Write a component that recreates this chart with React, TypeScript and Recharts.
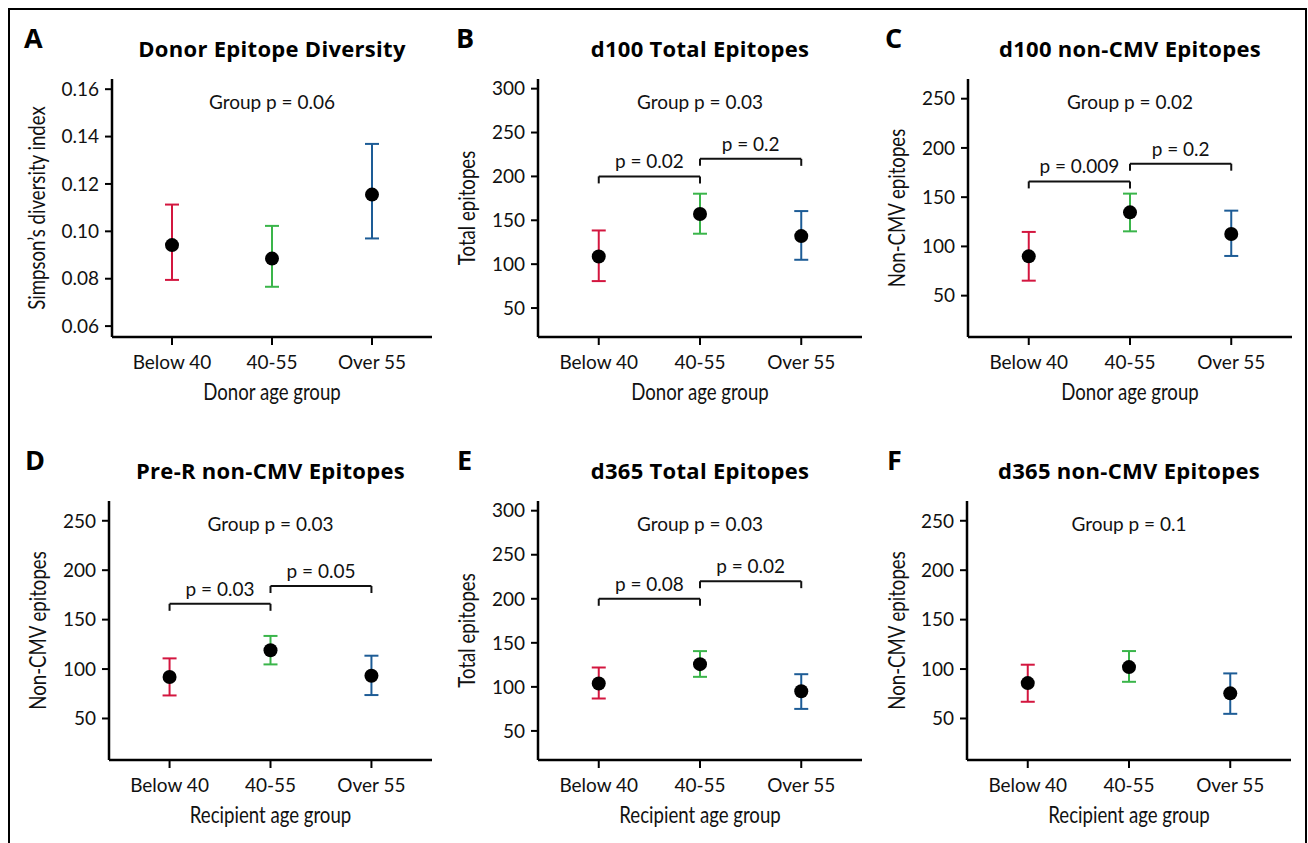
import React from "react"
import {
  ScatterChart,
  Scatter,
  XAxis,
  YAxis,
  ErrorBar,
  ReferenceLine,
} from "recharts"

const groups = ["Below 40", "40-55", "Over 55"]
const groupColors = ["#d3163f", "#3ab54a", "#1d5c96"]

// mean and interval ends per age group
const diversityMean = [0.0942, 0.0885, 0.1155]
const diversityLow = [0.0795, 0.0766, 0.097]
const diversityHigh = [0.1113, 0.1023, 0.1369]

const d100TotalMean = [108.8, 157.1, 132]
const d100TotalLow = [80.7, 134.7, 105]
const d100TotalHigh = [138.4, 180.3, 160.5]

const d100NonCmvMean = [89.9, 134.6, 112.6]
const d100NonCmvLow = [65.2, 115.3, 90.3]
const d100NonCmvHigh = [114.7, 153.6, 136.3]

const preRNonCmvMean = [91.9, 119, 93.2]
const preRNonCmvLow = [73.3, 104.7, 73.7]
const preRNonCmvHigh = [110.8, 133.5, 113.5]

const d365TotalMean = [103.9, 125.8, 95.1]
const d365TotalLow = [86.8, 111.4, 75]
const d365TotalHigh = [122, 140.6, 114.4]

const d365NonCmvMean = [85.8, 102, 75.4]
const d365NonCmvLow = [66.9, 87.1, 54.7]
const d365NonCmvHigh = [104.4, 118.2, 95.6]

const diversityTicks = [0.06, 0.08, 0.1, 0.12, 0.14, 0.16]
const totalTicks = [50, 100, 150, 200, 250, 300]
const nonCmvTicks = [50, 100, 150, 200, 250]

// pairwise comparisons: [from group, to group, bracket level, label]
type Bracket = [number, number, number, string]
const d100TotalPairs: Bracket[] = [[0, 1, 200, "p = 0.02"], [1, 2, 220, "p = 0.2"]]
const d100NonCmvPairs: Bracket[] = [[0, 1, 166, "p = 0.009"], [1, 2, 184, "p = 0.2"]]
const preRNonCmvPairs: Bracket[] = [[0, 1, 166, "p = 0.03"], [1, 2, 184, "p = 0.05"]]
const d365TotalPairs: Bracket[] = [[0, 1, 200, "p = 0.08"], [1, 2, 220, "p = 0.02"]]

const SANS = "Lato, 'Open Sans', sans-serif"
const HEAVY = "'Open Sans', Lato, sans-serif"
const INK = "#111"
// axis titles in the original are set in a condensed face
const SQUEEZE = 0.81

interface PanelSpec {
  letter: string
  title: string
  groupP: string
  yLabel: string
  xLabel: string
  mean: number[]
  low: number[]
  high: number[]
  ticks: number[]
  domain: [number, number]
  digits: number
  brackets: Bracket[]
  left: number
  top: number
  width: number
  axisX: number
  axisRight: number
  axisTop: number
  axisBottom: number
  yLabelX: number
  letterX: number
}

const panels: PanelSpec[] = [
  {
    letter: "A", title: "Donor Epitope Diversity", groupP: "Group p = 0.06",
    yLabel: "Simpson\u2019s diversity index", xLabel: "Donor age group",
    mean: diversityMean, low: diversityLow, high: diversityHigh,
    ticks: diversityTicks, domain: [0.0554, 0.1643], digits: 2, brackets: [],
    left: 0, top: 0, width: 440, axisX: 112, axisRight: 432, axisTop: 79, axisBottom: 337,
    yLabelX: 37, letterX: 24,
  },
  {
    letter: "B", title: "d100 Total Epitopes", groupP: "Group p = 0.03",
    yLabel: "Total epitopes", xLabel: "Donor age group",
    mean: d100TotalMean, low: d100TotalLow, high: d100TotalHigh,
    ticks: totalTicks, domain: [17, 311], digits: 0, brackets: d100TotalPairs,
    left: 430, top: 0, width: 440, axisX: 538, axisRight: 862, axisTop: 79, axisBottom: 337,
    yLabelX: 467, letterX: 456,
  },
  {
    letter: "C", title: "d100 non-CMV Epitopes", groupP: "Group p = 0.02",
    yLabel: "Non-CMV epitopes", xLabel: "Donor age group",
    mean: d100NonCmvMean, low: d100NonCmvLow, high: d100NonCmvHigh,
    ticks: nonCmvTicks, domain: [8, 270], digits: 0, brackets: d100NonCmvPairs,
    left: 860, top: 0, width: 448, axisX: 968, axisRight: 1292, axisTop: 79, axisBottom: 337,
    yLabelX: 897, letterX: 885,
  },
  {
    letter: "D", title: "Pre-R non-CMV Epitopes", groupP: "Group p = 0.03",
    yLabel: "Non-CMV epitopes", xLabel: "Recipient age group",
    mean: preRNonCmvMean, low: preRNonCmvLow, high: preRNonCmvHigh,
    ticks: nonCmvTicks, domain: [8, 270], digits: 0, brackets: preRNonCmvPairs,
    left: 0, top: 420, width: 440, axisX: 109, axisRight: 432, axisTop: 501, axisBottom: 760,
    yLabelX: 38, letterX: 25,
  },
  {
    letter: "E", title: "d365 Total Epitopes", groupP: "Group p = 0.03",
    yLabel: "Total epitopes", xLabel: "Recipient age group",
    mean: d365TotalMean, low: d365TotalLow, high: d365TotalHigh,
    ticks: totalTicks, domain: [17, 311], digits: 0, brackets: d365TotalPairs,
    left: 430, top: 420, width: 440, axisX: 538, axisRight: 862, axisTop: 501, axisBottom: 760,
    yLabelX: 467, letterX: 457,
  },
  {
    letter: "F", title: "d365 non-CMV Epitopes", groupP: "Group p = 0.1",
    yLabel: "Non-CMV epitopes", xLabel: "Recipient age group",
    mean: d365NonCmvMean, low: d365NonCmvLow, high: d365NonCmvHigh,
    ticks: nonCmvTicks, domain: [8, 270], digits: 0, brackets: [],
    left: 860, top: 420, width: 448, axisX: 967, axisRight: 1291, axisTop: 501, axisBottom: 760,
    yLabelX: 897, letterX: 887,
  },
]

const CHART_H = 420
const Y_AXIS_W = 80
const X_AXIS_H = 70

function Panel({ p }: { p: PanelSpec }) {
  const margin = {
    top: p.axisTop - p.top,
    left: p.axisX - p.left - Y_AXIS_W,
    right: p.width - (p.axisRight - p.left),
    bottom: CHART_H - (p.axisBottom - p.top) - X_AXIS_H,
  }
  const plotH = p.axisBottom - p.axisTop
  const drop = (7 * (p.domain[1] - p.domain[0])) / plotH
  const midX = (p.axisX + p.axisRight) / 2 - p.left
  const midY = (p.axisTop + p.axisBottom) / 2 - p.top
  const xTitleY = p.axisBottom - p.top + 63
  const yTitleX = p.yLabelX - p.left

  return (
    <div style={{ position: "absolute", left: p.left, top: p.top }}>
      <ScatterChart width={p.width} height={CHART_H} margin={margin}>
        <XAxis
          type="number"
          dataKey="x"
          domain={[-0.6, 2.6]}
          ticks={[0, 1, 2]}
          interval={0}
          allowDataOverflow
          tickFormatter={(i: number) => groups[i]}
          height={X_AXIS_H}
          axisLine={{ stroke: "#000", strokeWidth: 2.5 }}
          tickLine={{ stroke: "#000", strokeWidth: 2 }}
          tickSize={8}
          tickMargin={11}
          tick={{ fill: INK, fontSize: 19, fontFamily: SANS }}
          label={{
            value: p.xLabel,
            content: () => (
              <text
                transform={`translate(${midX},${xTitleY}) scale(${SQUEEZE},1)`}
                textAnchor="middle"
                fontSize={23}
                fontFamily={SANS}
                fill={INK}
              >
                {p.xLabel}
              </text>
            ),
          }}
        />
        <YAxis
          type="number"
          dataKey="y"
          domain={p.domain}
          ticks={p.ticks}
          interval={0}
          allowDataOverflow
          width={Y_AXIS_W}
          tickFormatter={(v: number) => v.toFixed(p.digits)}
          axisLine={{ stroke: "#000", strokeWidth: 2.5 }}
          tickLine={{ stroke: "#000", strokeWidth: 2 }}
          tickSize={7}
          tickMargin={6}
          tick={{ fill: INK, fontSize: 19, fontFamily: SANS }}
          label={{
            value: p.yLabel,
            content: () => (
              <text
                transform={`translate(${yTitleX},${midY}) rotate(-90) scale(${SQUEEZE},1)`}
                textAnchor="middle"
                dy="0.36em"
                fontSize={23}
                fontFamily={SANS}
                fill={INK}
              >
                {p.yLabel}
              </text>
            ),
          }}
        />
        {p.brackets.map(([a, b, h, text]) => (
          <React.Fragment key={text + a}>
            <ReferenceLine
              segment={[{ x: a, y: h }, { x: b, y: h }]}
              stroke={INK}
              strokeWidth={2}
              label={{
                value: text,
                position: "top",
                offset: 8,
                fill: INK,
                fontSize: 19,
                fontFamily: SANS,
              }}
            />
            <ReferenceLine segment={[{ x: a, y: h }, { x: a, y: h - drop }]} stroke={INK} strokeWidth={2} />
            <ReferenceLine segment={[{ x: b, y: h }, { x: b, y: h - drop }]} stroke={INK} strokeWidth={2} />
          </React.Fragment>
        ))}
        {groups.map((g, i) => (
          <Scatter
            key={g}
            data={[{ x: i, y: p.mean[i], err: [p.mean[i] - p.low[i], p.high[i] - p.mean[i]] }]}
            isAnimationActive={false}
            shape={(s: any) => <circle cx={s.cx} cy={s.cy} r={7} fill="#000" />}
          >
            <ErrorBar
              dataKey="err"
              direction="y"
              width={7}
              stroke={groupColors[i]}
              strokeWidth={2}
              isAnimationActive={false}
            />
          </Scatter>
        ))}
      </ScatterChart>
    </div>
  )
}

export default function App() {
  return (
    <div
      style={{
        position: "fixed",
        left: 0,
        top: 0,
        width: 1308,
        height: 843,
        background: "#fff",
        overflow: "hidden",
      }}
    >
      <div
        style={{
          position: "absolute",
          left: 8,
          top: 8,
          width: 1295,
          height: 900,
          borderTop: "2px solid #000",
          borderLeft: "2px solid #000",
          borderRight: "2px solid #000",
        }}
      />
      {panels.map((p) => (
        <Panel key={p.letter} p={p} />
      ))}
      <svg
        width={1308}
        height={843}
        style={{ position: "absolute", left: 0, top: 0, pointerEvents: "none" }}
      >
        {panels.map((p) => {
          const cx = (p.axisX + p.axisRight) / 2
          const shift = p.top ? 2 : 0
          return (
            <g key={p.letter}>
              <text x={p.letterX} y={p.top + 48 + shift} fontSize={27} fontWeight={700} fontFamily={HEAVY} fill="#000">
                {p.letter}
              </text>
              <text
                x={cx}
                y={p.top + 57 + shift}
                textAnchor="middle"
                fontSize={22}
                fontWeight={700}
                letterSpacing={0.3}
                fontFamily={HEAVY}
                fill="#000"
              >
                {p.title}
              </text>
              <text x={cx} y={p.axisTop + 30} textAnchor="middle" fontSize={19} fontFamily={SANS} fill={INK}>
                {p.groupP}
              </text>
            </g>
          )
        })}
      </svg>
    </div>
  )
}
